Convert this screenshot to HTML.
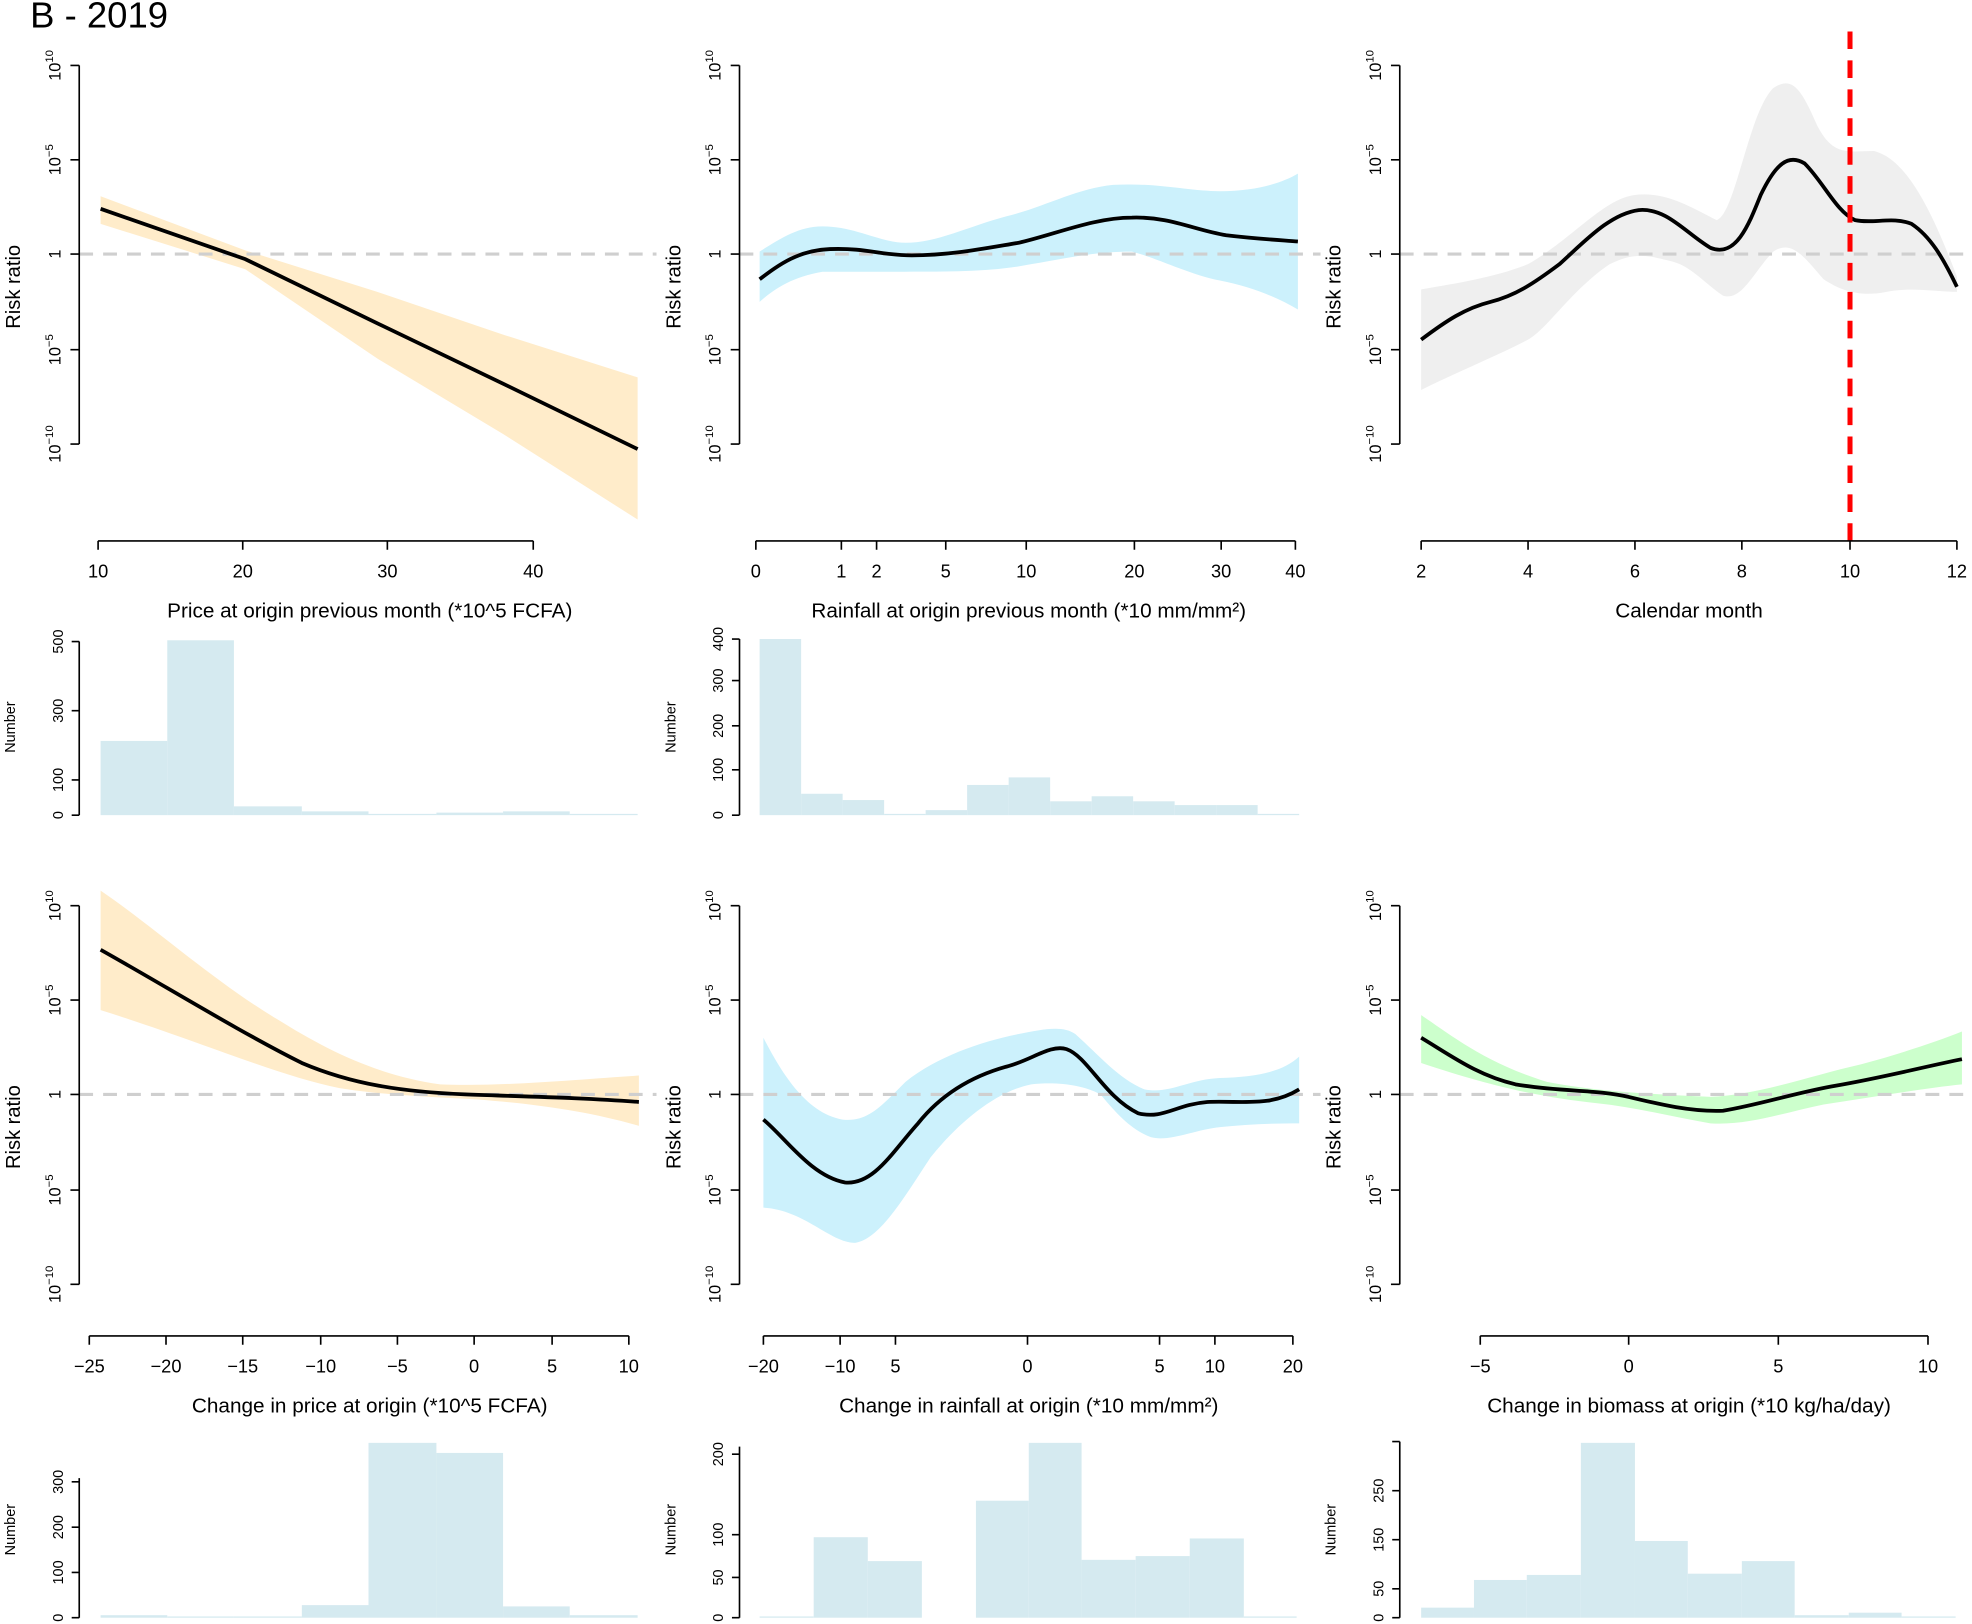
<!DOCTYPE html>
<html><head><meta charset="utf-8"><style>
html,body{margin:0;padding:0;background:#fff;}
svg{display:block;}
text{font-family:"Liberation Sans",Arial,sans-serif;fill:#000;}
</style></head><body>
<svg width="1972" height="1624" viewBox="0 0 1568 1291" preserveAspectRatio="none" xmlns="http://www.w3.org/2000/svg">
<rect width="1568" height="1291" fill="#fff"/>
<text x="24" y="22" font-size="29">B - 2019</text>

<!-- ===== Panel 1 ===== -->
<path d="M80,156 L195,199 L300,232 L400,266 L507,300 L507,413 L400,345 L300,285 L195,214 L80,178 Z" fill="#ffecca"/>
<line x1="63" y1="202" x2="522" y2="202" stroke="#cfcfcf" stroke-width="2.5" stroke-dasharray="11,8"/>
<path d="M80,166 L195,206 L300,257 L400,305 L507,357" fill="none" stroke="#000" stroke-width="3"/>
<g stroke="#000" stroke-width="1.3" fill="none">
<path d="M63,52 V353 M56,52 H63 M56,127 H63 M56,202 H63 M56,278 H63 M56,353 H63"/>
<path d="M78,430 H424 M78,430 V437 M193,430 V437 M308,430 V437 M424,430 V437"/>
</g>
<g font-size="13" text-anchor="middle">
<text transform="translate(48,52) rotate(-90)">10<tspan dy="-6" font-size="9">10</tspan></text>
<text transform="translate(48,127) rotate(-90)">10<tspan dy="-6" font-size="9">−5</tspan></text>
<text transform="translate(48,202) rotate(-90)">1</text>
<text transform="translate(48,278) rotate(-90)">10<tspan dy="-6" font-size="9">−5</tspan></text>
<text transform="translate(48,353) rotate(-90)">10<tspan dy="-6" font-size="9">−10</tspan></text>
</g>
<text transform="translate(16,228) rotate(-90)" font-size="16" text-anchor="middle">Risk ratio</text>
<g font-size="14.5" text-anchor="middle"><text x="78" y="459">10</text><text x="193" y="459">20</text><text x="308" y="459">30</text><text x="424" y="459">40</text></g>
<text x="294" y="491" font-size="16.5" text-anchor="middle">Price at origin previous month (*10^5 FCFA)</text>

<!-- ===== Panel 2 ===== -->
<path d="M604,200 C620,190 635,180 654,180 C680,180 700,193 720,193 C745,193 770,180 800,172 C830,165 855,150 885,147 C920,145 945,152 970,152 C1000,152 1020,145 1032,138 L1032,246 C1015,236 995,228 970,223 C945,218 920,205 900,200 C870,200 850,205 820,210 C790,216 760,216 720,216 C690,216 670,216 654,216 C630,220 615,230 604,240 Z" fill="#ccf1fc"/>
<line x1="588" y1="202" x2="1050" y2="202" stroke="#cfcfcf" stroke-width="2.5" stroke-dasharray="11,8"/>
<path d="M604,222 C620,210 635,199 660,198 C690,197 700,203 725,203 C755,203 780,198 810,193 C840,186 870,173 900,173 C930,172 950,183 975,187 C1000,190 1020,191 1032,192" fill="none" stroke="#000" stroke-width="3"/>
<g stroke="#000" stroke-width="1.3" fill="none">
<path d="M588,52 V353 M581,52 H588 M581,127 H588 M581,202 H588 M581,278 H588 M581,353 H588"/>
<path d="M601,430 H1030 M601,430 V437 M669,430 V437 M697,430 V437 M752,430 V437 M816,430 V437 M902,430 V437 M971,430 V437 M1030,430 V437"/>
</g>
<g font-size="13" text-anchor="middle">
<text transform="translate(573,52) rotate(-90)">10<tspan dy="-6" font-size="9">10</tspan></text>
<text transform="translate(573,127) rotate(-90)">10<tspan dy="-6" font-size="9">−5</tspan></text>
<text transform="translate(573,202) rotate(-90)">1</text>
<text transform="translate(573,278) rotate(-90)">10<tspan dy="-6" font-size="9">−5</tspan></text>
<text transform="translate(573,353) rotate(-90)">10<tspan dy="-6" font-size="9">−10</tspan></text>
</g>
<text transform="translate(541,228) rotate(-90)" font-size="16" text-anchor="middle">Risk ratio</text>
<g font-size="14.5" text-anchor="middle"><text x="601" y="459">0</text><text x="669" y="459">1</text><text x="697" y="459">2</text><text x="752" y="459">5</text><text x="816" y="459">10</text><text x="902" y="459">20</text><text x="971" y="459">30</text><text x="1030" y="459">40</text></g>
<text x="818" y="491" font-size="16.5" text-anchor="middle">Rainfall at origin previous month (*10 mm/mm²)</text>

<!-- ===== Panel 3 ===== -->
<path d="M1130,230 C1160,225 1190,220 1215,210 C1250,190 1275,158 1300,155 C1325,152 1345,165 1365,175 C1380,170 1390,90 1410,70 C1425,60 1432,70 1445,100 C1458,125 1470,120 1490,120 C1510,125 1530,150 1556,220 L1556,232 C1540,232 1520,228 1500,232 C1480,236 1465,232 1450,222 C1435,205 1425,190 1410,200 C1395,215 1385,240 1370,235 C1355,225 1345,212 1330,208 C1310,203 1300,200 1280,210 C1250,230 1230,262 1215,270 C1190,283 1160,295 1130,310 Z" fill="#efefef"/>
<line x1="1113" y1="202" x2="1568" y2="202" stroke="#cfcfcf" stroke-width="2.5" stroke-dasharray="11,8"/>
<path d="M1130,270 C1150,255 1165,245 1185,240 C1205,235 1220,225 1240,210 C1260,192 1280,170 1303,167 C1325,165 1340,185 1360,197 C1380,205 1390,180 1400,155 C1412,130 1422,122 1435,130 C1450,145 1460,168 1475,175 C1490,178 1505,172 1520,178 C1535,188 1545,205 1556,228" fill="none" stroke="#000" stroke-width="3"/>
<line x1="1471" y1="25" x2="1471" y2="430" stroke="#ff0000" stroke-width="4" stroke-dasharray="14,9"/>
<g stroke="#000" stroke-width="1.3" fill="none">
<path d="M1113,52 V353 M1106,52 H1113 M1106,127 H1113 M1106,202 H1113 M1106,278 H1113 M1106,353 H1113"/>
<path d="M1130,430 H1556 M1130,430 V437 M1215,430 V437 M1300,430 V437 M1385,430 V437 M1471,430 V437 M1556,430 V437"/>
</g>
<g font-size="13" text-anchor="middle">
<text transform="translate(1098,52) rotate(-90)">10<tspan dy="-6" font-size="9">10</tspan></text>
<text transform="translate(1098,127) rotate(-90)">10<tspan dy="-6" font-size="9">−5</tspan></text>
<text transform="translate(1098,202) rotate(-90)">1</text>
<text transform="translate(1098,278) rotate(-90)">10<tspan dy="-6" font-size="9">−5</tspan></text>
<text transform="translate(1098,353) rotate(-90)">10<tspan dy="-6" font-size="9">−10</tspan></text>
</g>
<text transform="translate(1066,228) rotate(-90)" font-size="16" text-anchor="middle">Risk ratio</text>
<g font-size="14.5" text-anchor="middle"><text x="1130" y="459">2</text><text x="1215" y="459">4</text><text x="1300" y="459">6</text><text x="1385" y="459">8</text><text x="1471" y="459">10</text><text x="1556" y="459">12</text></g>
<text x="1343" y="491" font-size="16.5" text-anchor="middle">Calendar month</text>

<!-- ===== Hist 1 ===== -->
<g fill="#d5eaf0">
<rect x="80" y="589" width="53" height="59"/><rect x="133" y="509" width="53" height="139"/><rect x="186" y="641" width="54" height="7"/><rect x="240" y="645" width="53" height="3"/><rect x="293" y="647" width="54" height="1"/><rect x="347" y="646" width="53" height="2"/><rect x="400" y="645" width="53" height="3"/><rect x="453" y="647" width="54" height="1"/>
</g>
<path d="M63,510 V648 M57,510 H63 M57,565 H63 M57,620 H63 M57,648 H63" stroke="#000" stroke-width="1.3" fill="none"/>
<g font-size="11.5" text-anchor="middle">
<text transform="translate(50,510) rotate(-90)">500</text><text transform="translate(50,565) rotate(-90)">300</text><text transform="translate(50,620) rotate(-90)">100</text><text transform="translate(50,648) rotate(-90)">0</text>
</g>
<text transform="translate(12,578) rotate(-90)" font-size="11.5" text-anchor="middle">Number</text>

<!-- ===== Hist 2 ===== -->
<g fill="#d5eaf0">
<rect x="604" y="508" width="33" height="140"/><rect x="637" y="631" width="33" height="17"/><rect x="670" y="636" width="33" height="12"/><rect x="703" y="647" width="33" height="1"/><rect x="736" y="644" width="33" height="4"/><rect x="769" y="624" width="33" height="24"/><rect x="802" y="618" width="33" height="30"/><rect x="835" y="637" width="33" height="11"/><rect x="868" y="633" width="33" height="15"/><rect x="901" y="637" width="33" height="11"/><rect x="934" y="640" width="33" height="8"/><rect x="967" y="640" width="33" height="8"/><rect x="1000" y="647" width="33" height="1"/>
</g>
<path d="M588,508 V648 M582,508 H588 M582,541 H588 M582,577 H588 M582,612 H588 M582,648 H588" stroke="#000" stroke-width="1.3" fill="none"/>
<g font-size="11.5" text-anchor="middle">
<text transform="translate(575,508) rotate(-90)">400</text><text transform="translate(575,541) rotate(-90)">300</text><text transform="translate(575,577) rotate(-90)">200</text><text transform="translate(575,612) rotate(-90)">100</text><text transform="translate(575,648) rotate(-90)">0</text>
</g>
<text transform="translate(537,578) rotate(-90)" font-size="11.5" text-anchor="middle">Number</text>

<!-- ===== Panel 4 ===== -->
<path d="M80,708 C120,735 170,780 220,810 C260,835 300,855 350,862 C400,864 460,858 508,855 L508,895 C470,884 430,878 380,874 C340,872 300,870 270,865 C220,855 160,828 80,803 Z" fill="#ffecca"/>
<line x1="63" y1="870" x2="522" y2="870" stroke="#cfcfcf" stroke-width="2.5" stroke-dasharray="11,8"/>
<path d="M80,755 C130,783 190,820 240,845 C280,862 320,868 370,870 C430,872 470,873 508,876" fill="none" stroke="#000" stroke-width="3"/>
<g stroke="#000" stroke-width="1.3" fill="none">
<path d="M63,720 V1021 M56,720 H63 M56,795 H63 M56,870 H63 M56,946 H63 M56,1021 H63"/>
<path d="M71,1062 H500 M71,1062 V1069 M132,1062 V1069 M193,1062 V1069 M255,1062 V1069 M316,1062 V1069 M377,1062 V1069 M439,1062 V1069 M500,1062 V1069"/>
</g>
<g font-size="13" text-anchor="middle">
<text transform="translate(48,720) rotate(-90)">10<tspan dy="-6" font-size="9">10</tspan></text>
<text transform="translate(48,795) rotate(-90)">10<tspan dy="-6" font-size="9">−5</tspan></text>
<text transform="translate(48,870) rotate(-90)">1</text>
<text transform="translate(48,946) rotate(-90)">10<tspan dy="-6" font-size="9">−5</tspan></text>
<text transform="translate(48,1021) rotate(-90)">10<tspan dy="-6" font-size="9">−10</tspan></text>
</g>
<text transform="translate(16,896) rotate(-90)" font-size="16" text-anchor="middle">Risk ratio</text>
<g font-size="14.5" text-anchor="middle"><text x="71" y="1091">−25</text><text x="132" y="1091">−20</text><text x="193" y="1091">−15</text><text x="255" y="1091">−10</text><text x="316" y="1091">−5</text><text x="377" y="1091">0</text><text x="439" y="1091">5</text><text x="500" y="1091">10</text></g>
<text x="294" y="1123" font-size="16.5" text-anchor="middle">Change in price at origin (*10^5 FCFA)</text>

<!-- ===== Panel 5 ===== -->
<path d="M607,825 C620,850 640,885 670,890 C690,892 700,880 720,860 C745,840 780,828 810,822 C830,818 845,815 855,822 C875,840 890,858 910,866 C930,870 945,858 970,857 C1000,856 1020,852 1033,840 L1033,893 C1010,893 990,894 970,896 C950,898 930,908 915,904 C900,898 890,888 875,870 C860,862 840,860 820,862 C790,868 760,895 740,920 C720,950 700,985 680,988 C660,988 640,962 607,960 Z" fill="#ccf1fc"/>
<line x1="588" y1="870" x2="1050" y2="870" stroke="#cfcfcf" stroke-width="2.5" stroke-dasharray="11,8"/>
<path d="M607,890 C625,905 645,935 672,940 C695,942 710,915 730,893 C750,868 775,855 800,848 C820,843 835,830 848,834 C865,840 878,872 905,885 C925,890 935,878 960,876 C990,875 1010,880 1033,866" fill="none" stroke="#000" stroke-width="3"/>
<g stroke="#000" stroke-width="1.3" fill="none">
<path d="M588,720 V1021 M581,720 H588 M581,795 H588 M581,870 H588 M581,946 H588 M581,1021 H588"/>
<path d="M607,1062 H1028 M607,1062 V1069 M668,1062 V1069 M712,1062 V1069 M817,1062 V1069 M922,1062 V1069 M966,1062 V1069 M1028,1062 V1069"/>
</g>
<g font-size="13" text-anchor="middle">
<text transform="translate(573,720) rotate(-90)">10<tspan dy="-6" font-size="9">10</tspan></text>
<text transform="translate(573,795) rotate(-90)">10<tspan dy="-6" font-size="9">−5</tspan></text>
<text transform="translate(573,870) rotate(-90)">1</text>
<text transform="translate(573,946) rotate(-90)">10<tspan dy="-6" font-size="9">−5</tspan></text>
<text transform="translate(573,1021) rotate(-90)">10<tspan dy="-6" font-size="9">−10</tspan></text>
</g>
<text transform="translate(541,896) rotate(-90)" font-size="16" text-anchor="middle">Risk ratio</text>
<g font-size="14.5" text-anchor="middle"><text x="607" y="1091">−20</text><text x="668" y="1091">−10</text><text x="712" y="1091">5</text><text x="817" y="1091">0</text><text x="922" y="1091">5</text><text x="966" y="1091">10</text><text x="1028" y="1091">20</text></g>
<text x="818" y="1123" font-size="16.5" text-anchor="middle">Change in rainfall at origin (*10 mm/mm²)</text>

<!-- ===== Panel 6 ===== -->
<path d="M1130,807 C1150,820 1180,845 1230,860 C1270,868 1320,870 1360,872 C1400,870 1440,855 1480,846 C1510,838 1540,828 1560,820 L1560,862 C1530,865 1490,872 1450,878 C1420,884 1390,895 1360,893 C1330,888 1300,880 1270,877 C1230,873 1190,865 1130,845 Z" fill="#ccffcc"/>
<line x1="1113" y1="870" x2="1568" y2="870" stroke="#cfcfcf" stroke-width="2.5" stroke-dasharray="11,8"/>
<path d="M1130,825 C1155,840 1175,855 1205,862 C1240,868 1270,866 1295,872 C1320,878 1345,884 1370,883 C1400,878 1430,868 1460,863 C1500,856 1530,848 1560,842" fill="none" stroke="#000" stroke-width="3"/>
<g stroke="#000" stroke-width="1.3" fill="none">
<path d="M1113,720 V1021 M1106,720 H1113 M1106,795 H1113 M1106,870 H1113 M1106,946 H1113 M1106,1021 H1113"/>
<path d="M1177,1062 H1533 M1177,1062 V1069 M1295,1062 V1069 M1414,1062 V1069 M1533,1062 V1069"/>
</g>
<g font-size="13" text-anchor="middle">
<text transform="translate(1098,720) rotate(-90)">10<tspan dy="-6" font-size="9">10</tspan></text>
<text transform="translate(1098,795) rotate(-90)">10<tspan dy="-6" font-size="9">−5</tspan></text>
<text transform="translate(1098,870) rotate(-90)">1</text>
<text transform="translate(1098,946) rotate(-90)">10<tspan dy="-6" font-size="9">−5</tspan></text>
<text transform="translate(1098,1021) rotate(-90)">10<tspan dy="-6" font-size="9">−10</tspan></text>
</g>
<text transform="translate(1066,896) rotate(-90)" font-size="16" text-anchor="middle">Risk ratio</text>
<g font-size="14.5" text-anchor="middle"><text x="1177" y="1091">−5</text><text x="1295" y="1091">0</text><text x="1414" y="1091">5</text><text x="1533" y="1091">10</text></g>
<text x="1343" y="1123" font-size="16.5" text-anchor="middle">Change in biomass at origin (*10 kg/ha/day)</text>

<!-- ===== Hist 7 ===== -->
<g fill="#d5eaf0">
<rect x="80" y="1284" width="53" height="2"/><rect x="133" y="1285" width="53" height="1"/><rect x="186" y="1285" width="54" height="1"/><rect x="240" y="1276" width="53" height="10"/><rect x="293" y="1147" width="54" height="139"/><rect x="347" y="1155" width="53" height="131"/><rect x="400" y="1277" width="53" height="9"/><rect x="453" y="1284" width="54" height="2"/>
</g>
<path d="M63,1175 V1286 M57,1178 H63 M57,1214 H63 M57,1250 H63 M57,1286 H63" stroke="#000" stroke-width="1.3" fill="none"/>
<g font-size="11.5" text-anchor="middle">
<text transform="translate(50,1178) rotate(-90)">300</text><text transform="translate(50,1214) rotate(-90)">200</text><text transform="translate(50,1250) rotate(-90)">100</text><text transform="translate(50,1286) rotate(-90)">0</text>
</g>
<text transform="translate(12,1216) rotate(-90)" font-size="11.5" text-anchor="middle">Number</text>

<!-- ===== Hist 8 ===== -->
<g fill="#d5eaf0">
<rect x="604" y="1285" width="43" height="1"/><rect x="647" y="1222" width="43" height="64"/><rect x="690" y="1241" width="43" height="45"/><rect x="776" y="1193" width="42" height="93"/><rect x="818" y="1147" width="42" height="139"/><rect x="860" y="1240" width="43" height="46"/><rect x="903" y="1237" width="43" height="49"/><rect x="946" y="1223" width="43" height="63"/><rect x="989" y="1285" width="42" height="1"/>
</g>
<path d="M588,1150 V1286 M582,1156 H588 M582,1220 H588 M582,1254 H588 M582,1286 H588" stroke="#000" stroke-width="1.3" fill="none"/>
<g font-size="11.5" text-anchor="middle">
<text transform="translate(575,1156) rotate(-90)">200</text><text transform="translate(575,1220) rotate(-90)">100</text><text transform="translate(575,1254) rotate(-90)">50</text><text transform="translate(575,1286) rotate(-90)">0</text>
</g>
<text transform="translate(537,1216) rotate(-90)" font-size="11.5" text-anchor="middle">Number</text>

<!-- ===== Hist 9 ===== -->
<g fill="#d5eaf0">
<rect x="1130" y="1278" width="42" height="8"/><rect x="1172" y="1256" width="42" height="30"/><rect x="1214" y="1252" width="43" height="34"/><rect x="1257" y="1147" width="43" height="139"/><rect x="1300" y="1225" width="42" height="61"/><rect x="1342" y="1251" width="43" height="35"/><rect x="1385" y="1241" width="42" height="45"/><rect x="1427" y="1284" width="43" height="2"/><rect x="1470" y="1282" width="42" height="4"/><rect x="1512" y="1285" width="43" height="1"/>
</g>
<path d="M1113,1146 V1286 M1107,1146 H1113 M1107,1185 H1113 M1107,1224 H1113 M1107,1263 H1113 M1107,1286 H1113" stroke="#000" stroke-width="1.3" fill="none"/>
<g font-size="11.5" text-anchor="middle">
<text transform="translate(1100,1185) rotate(-90)">250</text><text transform="translate(1100,1224) rotate(-90)">150</text><text transform="translate(1100,1263) rotate(-90)">50</text><text transform="translate(1100,1286) rotate(-90)">0</text>
</g>
<text transform="translate(1062,1216) rotate(-90)" font-size="11.5" text-anchor="middle">Number</text>
</svg>
</body></html>
